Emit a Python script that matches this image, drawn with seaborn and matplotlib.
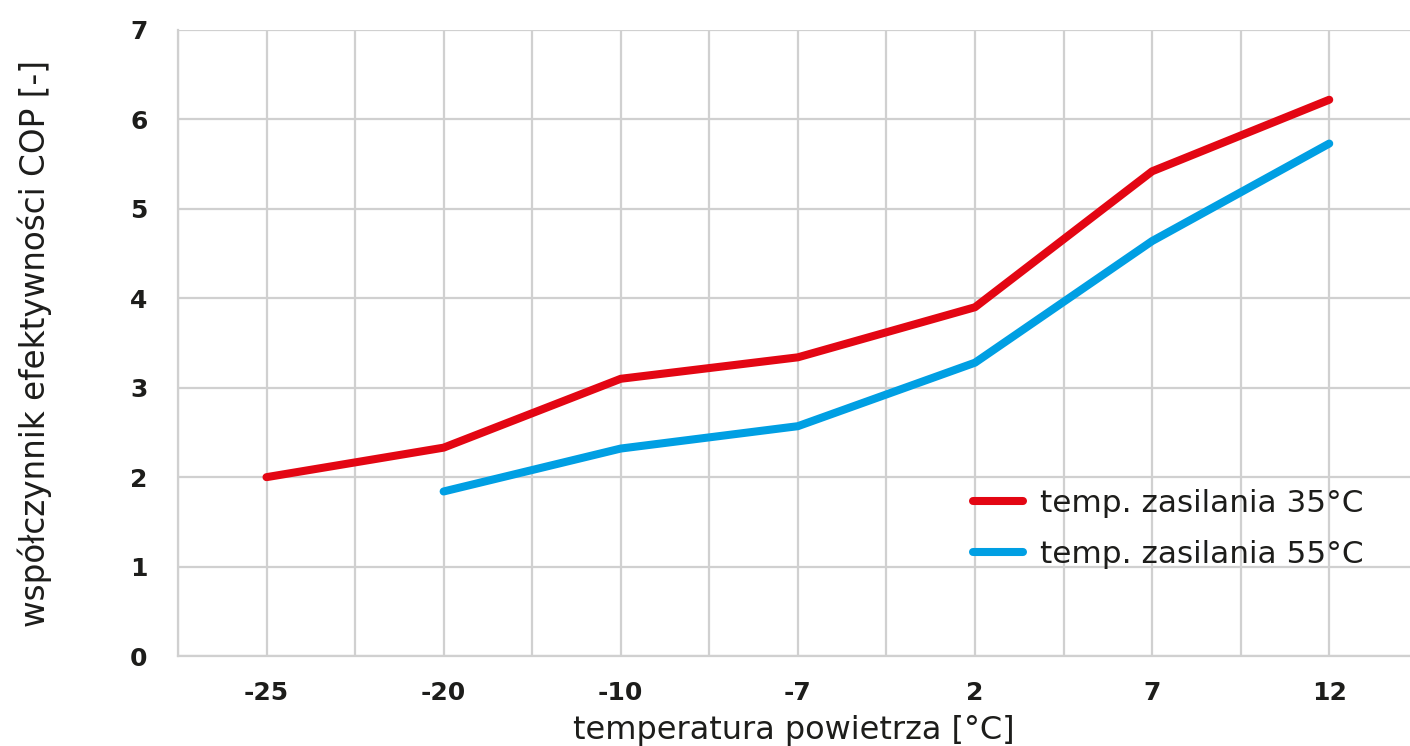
import pandas as pd
import matplotlib.pyplot as plt
import seaborn as sns
from matplotlib.ticker import MultipleLocator

# temperatura powietrza (kategorie na osi X)
temperatury = ["-25", "-20", "-10", "-7", "2", "7", "12"]

# COP dla temp. zasilania 35°C i 55°C
cop_35 = [2.00, 2.33, 3.10, 3.34, 3.90, 5.42, 6.22]
temp_55 = ["-20", "-10", "-7", "2", "7", "12"]
cop_55 = [1.84, 2.32, 2.57, 3.28, 4.64, 5.73]

seria_35 = "temp. zasilania 35°C"
seria_55 = "temp. zasilania 55°C"

df = pd.concat([
    pd.DataFrame({"temp": temperatury, "cop": cop_35, "seria": seria_35}),
    pd.DataFrame({"temp": temp_55, "cop": cop_55, "seria": seria_55}),
])
df["pos"] = df["temp"].map({t: i for i, t in enumerate(temperatury)})

sns.set_theme(style="white")
plt.rcParams["font.family"] = ["DejaVu Sans"]

fig = plt.figure(figsize=(14.1, 7.46), dpi=100)
ax = fig.add_axes([0.1262, 0.1206, 0.8738, 0.8392])

sns.lineplot(data=df, x="pos", y="cop", hue="seria",
             palette={seria_35: "#e30613", seria_55: "#009fe3"},
             linewidth=5.8, solid_capstyle="round", ax=ax)

ax.set_xlim(-0.5, 6.456)
ax.set_ylim(0, 7)
ax.set_xticks(range(len(temperatury)))
ax.set_xticklabels(temperatury)
ax.xaxis.set_minor_locator(MultipleLocator(0.5))
ax.yaxis.set_major_locator(MultipleLocator(1))

ax.grid(which="both", axis="x", color="#d0d0d0", linewidth=1.6)
ax.grid(which="major", axis="y", color="#d0d0d0", linewidth=1.6)
ax.set_axisbelow(True)

for s in ["top", "right"]:
    ax.spines[s].set_visible(False)
for s in ["left", "bottom"]:
    ax.spines[s].set_color("#d0d0d0")
    ax.spines[s].set_linewidth(1.6)

ax.tick_params(axis="both", which="both", length=0, labelsize=18,
               labelcolor="#1d1d1b")
ax.tick_params(axis="x", pad=18)
ax.tick_params(axis="y", pad=22)
for lab in ax.get_xticklabels() + ax.get_yticklabels():
    lab.set_fontweight("bold")

ax.set_xlabel("temperatura powietrza [°C]", fontsize=23, color="#1d1d1b",
              labelpad=7)
ax.set_ylabel("współczynnik efektywności COP [-]", fontsize=23.5,
              color="#1d1d1b", labelpad=56)

leg = ax.legend(loc="lower right", bbox_to_anchor=(0.985, 0.095), frameon=False,
                fontsize=22.4, handlelength=1.6, handletextpad=0.55,
                labelspacing=0.7, labelcolor="#1d1d1b")
for line in leg.get_lines():
    line.set_linewidth(5.8)
    line.set_solid_capstyle("round")

fig.savefig("out.png", dpi=100)
